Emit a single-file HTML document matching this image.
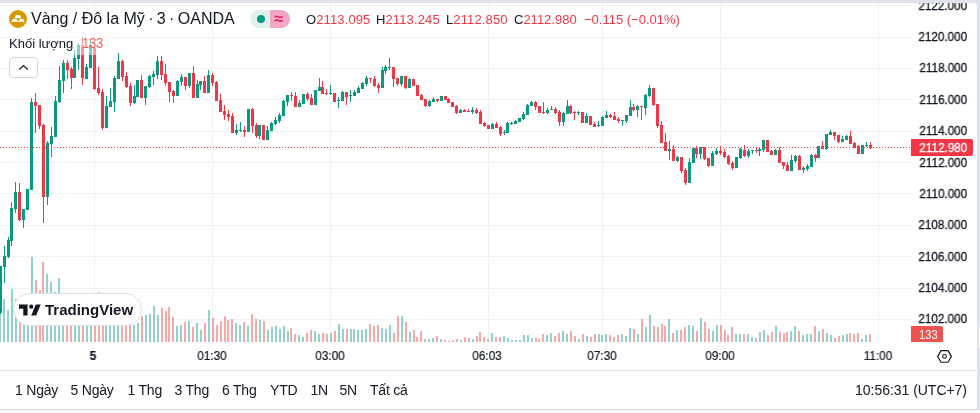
<!DOCTYPE html>
<html><head><meta charset="utf-8"><title>chart</title>
<style>
html,body{margin:0;padding:0;}
body{width:980px;height:413px;overflow:hidden;background:#e0e3eb;position:relative;font-family:"Liberation Sans",sans-serif;color:#131722;}
.panel{position:absolute;left:0;top:3px;width:977px;height:410px;background:#fff;border-top-right-radius:4px;}
.abs{position:absolute;white-space:nowrap;}
svg.chart{position:absolute;left:0;top:0;}
.pl{-webkit-text-stroke:0.3px;will-change:transform;position:absolute;right:12.5px;font-size:12px;line-height:14px;transform:scaleX(0.972);transform-origin:right center;white-space:nowrap;}
.tl{-webkit-text-stroke:0.2px;will-change:transform;position:absolute;top:349px;font-size:12px;line-height:14px;transform:translateX(-50%) scaleX(0.98);white-space:nowrap;}
.bt{position:absolute;top:381px;font-size:14px;line-height:18px;white-space:nowrap;letter-spacing:-0.2px;}
.r{color:#f23645;}
</style></head><body>
<div class="panel"></div>
<svg class="chart" width="980" height="413" viewBox="0 0 980 413" shape-rendering="crispEdges">
<rect x="0" y="5" width="911" height="1" fill="#f1f3f3"/>
<rect x="0" y="37" width="911" height="1" fill="#f1f3f3"/>
<rect x="0" y="68" width="911" height="1" fill="#f1f3f3"/>
<rect x="0" y="99" width="911" height="1" fill="#f1f3f3"/>
<rect x="0" y="131" width="911" height="1" fill="#f1f3f3"/>
<rect x="0" y="162" width="911" height="1" fill="#f1f3f3"/>
<rect x="0" y="193" width="911" height="1" fill="#f1f3f3"/>
<rect x="0" y="225" width="911" height="1" fill="#f1f3f3"/>
<rect x="0" y="256" width="911" height="1" fill="#f1f3f3"/>
<rect x="0" y="288" width="911" height="1" fill="#f1f3f3"/>
<rect x="0" y="319" width="911" height="1" fill="#f1f3f3"/>
<rect x="94" y="3" width="1" height="339" fill="#f1f3f3"/>
<rect x="212" y="3" width="1" height="339" fill="#f1f3f3"/>
<rect x="330" y="3" width="1" height="339" fill="#f1f3f3"/>
<rect x="488" y="3" width="1" height="339" fill="#f1f3f3"/>
<rect x="602" y="3" width="1" height="339" fill="#f1f3f3"/>
<rect x="720" y="3" width="1" height="339" fill="#f1f3f3"/>
<rect x="878" y="3" width="1" height="339" fill="#f1f3f3"/>
<rect x="-1" y="295" width="2" height="47" fill="rgba(38,166,154,0.5)"/>
<rect x="3" y="299" width="2" height="43" fill="rgba(38,166,154,0.5)"/>
<rect x="7" y="310" width="2" height="32" fill="rgba(38,166,154,0.5)"/>
<rect x="11" y="289" width="2" height="53" fill="rgba(38,166,154,0.5)"/>
<rect x="15" y="299" width="2" height="43" fill="rgba(38,166,154,0.5)"/>
<rect x="19" y="300" width="2" height="42" fill="rgba(239,83,80,0.5)"/>
<rect x="23" y="300" width="2" height="42" fill="rgba(38,166,154,0.5)"/>
<rect x="27" y="300" width="2" height="42" fill="rgba(38,166,154,0.5)"/>
<rect x="31" y="257" width="2" height="85" fill="rgba(38,166,154,0.5)"/>
<rect x="35" y="280" width="2" height="62" fill="rgba(239,83,80,0.5)"/>
<rect x="39" y="290" width="2" height="52" fill="rgba(239,83,80,0.5)"/>
<rect x="42" y="262" width="2" height="80" fill="rgba(239,83,80,0.5)"/>
<rect x="46" y="274" width="2" height="68" fill="rgba(38,166,154,0.5)"/>
<rect x="50" y="282" width="2" height="60" fill="rgba(38,166,154,0.5)"/>
<rect x="54" y="292" width="2" height="50" fill="rgba(38,166,154,0.5)"/>
<rect x="58" y="278" width="2" height="64" fill="rgba(38,166,154,0.5)"/>
<rect x="62" y="300" width="2" height="42" fill="rgba(38,166,154,0.5)"/>
<rect x="66" y="300" width="2" height="42" fill="rgba(239,83,80,0.5)"/>
<rect x="70" y="300" width="2" height="42" fill="rgba(239,83,80,0.5)"/>
<rect x="74" y="300" width="2" height="42" fill="rgba(38,166,154,0.5)"/>
<rect x="78" y="300" width="2" height="42" fill="rgba(38,166,154,0.5)"/>
<rect x="82" y="300" width="2" height="42" fill="rgba(239,83,80,0.5)"/>
<rect x="86" y="300" width="2" height="42" fill="rgba(38,166,154,0.5)"/>
<rect x="90" y="300" width="2" height="42" fill="rgba(38,166,154,0.5)"/>
<rect x="94" y="300" width="2" height="42" fill="rgba(239,83,80,0.5)"/>
<rect x="98" y="292" width="2" height="50" fill="rgba(239,83,80,0.5)"/>
<rect x="102" y="300" width="2" height="42" fill="rgba(239,83,80,0.5)"/>
<rect x="105" y="300" width="2" height="42" fill="rgba(38,166,154,0.5)"/>
<rect x="109" y="300" width="2" height="42" fill="rgba(38,166,154,0.5)"/>
<rect x="113" y="300" width="2" height="42" fill="rgba(38,166,154,0.5)"/>
<rect x="117" y="300" width="2" height="42" fill="rgba(38,166,154,0.5)"/>
<rect x="121" y="300" width="2" height="42" fill="rgba(239,83,80,0.5)"/>
<rect x="125" y="300" width="2" height="42" fill="rgba(239,83,80,0.5)"/>
<rect x="129" y="300" width="2" height="42" fill="rgba(239,83,80,0.5)"/>
<rect x="133" y="325" width="2" height="17" fill="rgba(38,166,154,0.5)"/>
<rect x="137" y="323" width="2" height="19" fill="rgba(38,166,154,0.5)"/>
<rect x="141" y="316" width="2" height="26" fill="rgba(239,83,80,0.5)"/>
<rect x="145" y="315" width="2" height="27" fill="rgba(38,166,154,0.5)"/>
<rect x="149" y="314" width="2" height="28" fill="rgba(38,166,154,0.5)"/>
<rect x="153" y="306" width="2" height="36" fill="rgba(38,166,154,0.5)"/>
<rect x="157" y="315" width="2" height="27" fill="rgba(38,166,154,0.5)"/>
<rect x="161" y="308" width="2" height="34" fill="rgba(239,83,80,0.5)"/>
<rect x="165" y="311" width="2" height="31" fill="rgba(239,83,80,0.5)"/>
<rect x="168" y="307" width="2" height="35" fill="rgba(239,83,80,0.5)"/>
<rect x="172" y="317" width="2" height="25" fill="rgba(239,83,80,0.5)"/>
<rect x="176" y="326" width="2" height="16" fill="rgba(38,166,154,0.5)"/>
<rect x="180" y="325" width="2" height="17" fill="rgba(38,166,154,0.5)"/>
<rect x="184" y="322" width="2" height="20" fill="rgba(239,83,80,0.5)"/>
<rect x="188" y="321" width="2" height="21" fill="rgba(38,166,154,0.5)"/>
<rect x="192" y="327" width="2" height="15" fill="rgba(239,83,80,0.5)"/>
<rect x="196" y="323" width="2" height="19" fill="rgba(38,166,154,0.5)"/>
<rect x="200" y="330" width="2" height="12" fill="rgba(38,166,154,0.5)"/>
<rect x="204" y="323" width="2" height="19" fill="rgba(239,83,80,0.5)"/>
<rect x="208" y="310" width="2" height="32" fill="rgba(38,166,154,0.5)"/>
<rect x="212" y="318" width="2" height="24" fill="rgba(239,83,80,0.5)"/>
<rect x="216" y="325" width="2" height="17" fill="rgba(239,83,80,0.5)"/>
<rect x="220" y="321" width="2" height="21" fill="rgba(239,83,80,0.5)"/>
<rect x="224" y="316" width="2" height="26" fill="rgba(239,83,80,0.5)"/>
<rect x="227" y="320" width="2" height="22" fill="rgba(239,83,80,0.5)"/>
<rect x="231" y="319" width="2" height="23" fill="rgba(239,83,80,0.5)"/>
<rect x="235" y="323" width="2" height="19" fill="rgba(38,166,154,0.5)"/>
<rect x="239" y="325" width="2" height="17" fill="rgba(38,166,154,0.5)"/>
<rect x="243" y="322" width="2" height="20" fill="rgba(239,83,80,0.5)"/>
<rect x="247" y="326" width="2" height="16" fill="rgba(38,166,154,0.5)"/>
<rect x="251" y="314" width="2" height="28" fill="rgba(239,83,80,0.5)"/>
<rect x="255" y="319" width="2" height="23" fill="rgba(239,83,80,0.5)"/>
<rect x="259" y="320" width="2" height="22" fill="rgba(38,166,154,0.5)"/>
<rect x="263" y="321" width="2" height="21" fill="rgba(239,83,80,0.5)"/>
<rect x="267" y="330" width="2" height="12" fill="rgba(38,166,154,0.5)"/>
<rect x="271" y="327" width="2" height="15" fill="rgba(38,166,154,0.5)"/>
<rect x="275" y="326" width="2" height="16" fill="rgba(38,166,154,0.5)"/>
<rect x="279" y="329" width="2" height="13" fill="rgba(38,166,154,0.5)"/>
<rect x="283" y="326" width="2" height="16" fill="rgba(38,166,154,0.5)"/>
<rect x="287" y="331" width="2" height="11" fill="rgba(38,166,154,0.5)"/>
<rect x="290" y="328" width="2" height="14" fill="rgba(239,83,80,0.5)"/>
<rect x="294" y="334" width="2" height="8" fill="rgba(239,83,80,0.5)"/>
<rect x="298" y="335" width="2" height="7" fill="rgba(38,166,154,0.5)"/>
<rect x="302" y="337" width="2" height="5" fill="rgba(38,166,154,0.5)"/>
<rect x="306" y="333" width="2" height="9" fill="rgba(239,83,80,0.5)"/>
<rect x="310" y="330" width="2" height="12" fill="rgba(239,83,80,0.5)"/>
<rect x="314" y="331" width="2" height="11" fill="rgba(38,166,154,0.5)"/>
<rect x="318" y="334" width="2" height="8" fill="rgba(38,166,154,0.5)"/>
<rect x="322" y="333" width="2" height="9" fill="rgba(239,83,80,0.5)"/>
<rect x="326" y="334" width="2" height="8" fill="rgba(239,83,80,0.5)"/>
<rect x="330" y="333" width="2" height="9" fill="rgba(38,166,154,0.5)"/>
<rect x="334" y="331" width="2" height="11" fill="rgba(239,83,80,0.5)"/>
<rect x="338" y="324" width="2" height="18" fill="rgba(38,166,154,0.5)"/>
<rect x="342" y="329" width="2" height="13" fill="rgba(38,166,154,0.5)"/>
<rect x="346" y="329" width="2" height="13" fill="rgba(239,83,80,0.5)"/>
<rect x="350" y="329" width="2" height="13" fill="rgba(38,166,154,0.5)"/>
<rect x="353" y="329" width="2" height="13" fill="rgba(38,166,154,0.5)"/>
<rect x="357" y="330" width="2" height="12" fill="rgba(38,166,154,0.5)"/>
<rect x="361" y="330" width="2" height="12" fill="rgba(38,166,154,0.5)"/>
<rect x="365" y="329" width="2" height="13" fill="rgba(38,166,154,0.5)"/>
<rect x="369" y="324" width="2" height="18" fill="rgba(239,83,80,0.5)"/>
<rect x="373" y="326" width="2" height="16" fill="rgba(239,83,80,0.5)"/>
<rect x="377" y="325" width="2" height="17" fill="rgba(239,83,80,0.5)"/>
<rect x="381" y="328" width="2" height="14" fill="rgba(38,166,154,0.5)"/>
<rect x="385" y="329" width="2" height="13" fill="rgba(38,166,154,0.5)"/>
<rect x="389" y="325" width="2" height="17" fill="rgba(38,166,154,0.5)"/>
<rect x="393" y="333" width="2" height="9" fill="rgba(239,83,80,0.5)"/>
<rect x="397" y="316" width="2" height="26" fill="rgba(239,83,80,0.5)"/>
<rect x="401" y="316" width="2" height="26" fill="rgba(38,166,154,0.5)"/>
<rect x="405" y="322" width="2" height="20" fill="rgba(239,83,80,0.5)"/>
<rect x="409" y="332" width="2" height="10" fill="rgba(38,166,154,0.5)"/>
<rect x="413" y="330" width="2" height="12" fill="rgba(239,83,80,0.5)"/>
<rect x="416" y="337" width="2" height="5" fill="rgba(239,83,80,0.5)"/>
<rect x="420" y="331" width="2" height="11" fill="rgba(239,83,80,0.5)"/>
<rect x="424" y="339" width="2" height="3" fill="rgba(239,83,80,0.5)"/>
<rect x="428" y="339" width="2" height="3" fill="rgba(38,166,154,0.5)"/>
<rect x="432" y="338" width="2" height="4" fill="rgba(38,166,154,0.5)"/>
<rect x="436" y="336" width="2" height="6" fill="rgba(239,83,80,0.5)"/>
<rect x="440" y="339" width="2" height="3" fill="rgba(38,166,154,0.5)"/>
<rect x="444" y="340" width="2" height="2" fill="rgba(239,83,80,0.5)"/>
<rect x="448" y="341" width="2" height="1" fill="rgba(239,83,80,0.5)"/>
<rect x="452" y="340" width="2" height="2" fill="rgba(239,83,80,0.5)"/>
<rect x="456" y="339" width="2" height="3" fill="rgba(239,83,80,0.5)"/>
<rect x="460" y="340" width="2" height="2" fill="rgba(38,166,154,0.5)"/>
<rect x="464" y="337" width="2" height="5" fill="rgba(239,83,80,0.5)"/>
<rect x="468" y="338" width="2" height="4" fill="rgba(239,83,80,0.5)"/>
<rect x="472" y="339" width="2" height="3" fill="rgba(38,166,154,0.5)"/>
<rect x="476" y="336" width="2" height="6" fill="rgba(239,83,80,0.5)"/>
<rect x="479" y="332" width="2" height="10" fill="rgba(239,83,80,0.5)"/>
<rect x="483" y="337" width="2" height="5" fill="rgba(239,83,80,0.5)"/>
<rect x="487" y="339" width="2" height="3" fill="rgba(239,83,80,0.5)"/>
<rect x="491" y="333" width="2" height="9" fill="rgba(38,166,154,0.5)"/>
<rect x="495" y="337" width="2" height="5" fill="rgba(239,83,80,0.5)"/>
<rect x="499" y="337" width="2" height="5" fill="rgba(239,83,80,0.5)"/>
<rect x="503" y="336" width="2" height="6" fill="rgba(38,166,154,0.5)"/>
<rect x="507" y="338" width="2" height="4" fill="rgba(38,166,154,0.5)"/>
<rect x="511" y="340" width="2" height="2" fill="rgba(38,166,154,0.5)"/>
<rect x="515" y="340" width="2" height="2" fill="rgba(38,166,154,0.5)"/>
<rect x="519" y="340" width="2" height="2" fill="rgba(38,166,154,0.5)"/>
<rect x="523" y="335" width="2" height="7" fill="rgba(38,166,154,0.5)"/>
<rect x="527" y="335" width="2" height="7" fill="rgba(38,166,154,0.5)"/>
<rect x="531" y="338" width="2" height="4" fill="rgba(38,166,154,0.5)"/>
<rect x="535" y="338" width="2" height="4" fill="rgba(239,83,80,0.5)"/>
<rect x="538" y="339" width="2" height="3" fill="rgba(239,83,80,0.5)"/>
<rect x="542" y="334" width="2" height="8" fill="rgba(239,83,80,0.5)"/>
<rect x="546" y="335" width="2" height="7" fill="rgba(38,166,154,0.5)"/>
<rect x="550" y="333" width="2" height="9" fill="rgba(38,166,154,0.5)"/>
<rect x="554" y="336" width="2" height="6" fill="rgba(239,83,80,0.5)"/>
<rect x="558" y="333" width="2" height="9" fill="rgba(239,83,80,0.5)"/>
<rect x="562" y="331" width="2" height="11" fill="rgba(38,166,154,0.5)"/>
<rect x="566" y="334" width="2" height="8" fill="rgba(38,166,154,0.5)"/>
<rect x="570" y="331" width="2" height="11" fill="rgba(239,83,80,0.5)"/>
<rect x="574" y="336" width="2" height="6" fill="rgba(239,83,80,0.5)"/>
<rect x="578" y="339" width="2" height="3" fill="rgba(38,166,154,0.5)"/>
<rect x="582" y="334" width="2" height="8" fill="rgba(239,83,80,0.5)"/>
<rect x="586" y="336" width="2" height="6" fill="rgba(38,166,154,0.5)"/>
<rect x="590" y="337" width="2" height="5" fill="rgba(239,83,80,0.5)"/>
<rect x="594" y="334" width="2" height="8" fill="rgba(239,83,80,0.5)"/>
<rect x="598" y="334" width="2" height="8" fill="rgba(38,166,154,0.5)"/>
<rect x="601" y="335" width="2" height="7" fill="rgba(38,166,154,0.5)"/>
<rect x="605" y="334" width="2" height="8" fill="rgba(38,166,154,0.5)"/>
<rect x="609" y="335" width="2" height="7" fill="rgba(239,83,80,0.5)"/>
<rect x="613" y="337" width="2" height="5" fill="rgba(239,83,80,0.5)"/>
<rect x="617" y="335" width="2" height="7" fill="rgba(239,83,80,0.5)"/>
<rect x="621" y="334" width="2" height="8" fill="rgba(38,166,154,0.5)"/>
<rect x="625" y="336" width="2" height="6" fill="rgba(38,166,154,0.5)"/>
<rect x="629" y="328" width="2" height="14" fill="rgba(38,166,154,0.5)"/>
<rect x="633" y="329" width="2" height="13" fill="rgba(239,83,80,0.5)"/>
<rect x="637" y="334" width="2" height="8" fill="rgba(38,166,154,0.5)"/>
<rect x="641" y="319" width="2" height="23" fill="rgba(239,83,80,0.5)"/>
<rect x="645" y="327" width="2" height="15" fill="rgba(38,166,154,0.5)"/>
<rect x="649" y="315" width="2" height="27" fill="rgba(38,166,154,0.5)"/>
<rect x="653" y="326" width="2" height="16" fill="rgba(239,83,80,0.5)"/>
<rect x="657" y="327" width="2" height="15" fill="rgba(239,83,80,0.5)"/>
<rect x="661" y="324" width="2" height="18" fill="rgba(239,83,80,0.5)"/>
<rect x="664" y="326" width="2" height="16" fill="rgba(239,83,80,0.5)"/>
<rect x="668" y="319" width="2" height="23" fill="rgba(38,166,154,0.5)"/>
<rect x="672" y="333" width="2" height="9" fill="rgba(239,83,80,0.5)"/>
<rect x="676" y="330" width="2" height="12" fill="rgba(38,166,154,0.5)"/>
<rect x="680" y="330" width="2" height="12" fill="rgba(239,83,80,0.5)"/>
<rect x="684" y="327" width="2" height="15" fill="rgba(239,83,80,0.5)"/>
<rect x="688" y="325" width="2" height="17" fill="rgba(38,166,154,0.5)"/>
<rect x="692" y="326" width="2" height="16" fill="rgba(38,166,154,0.5)"/>
<rect x="696" y="331" width="2" height="11" fill="rgba(239,83,80,0.5)"/>
<rect x="700" y="318" width="2" height="24" fill="rgba(38,166,154,0.5)"/>
<rect x="704" y="322" width="2" height="20" fill="rgba(239,83,80,0.5)"/>
<rect x="708" y="329" width="2" height="13" fill="rgba(239,83,80,0.5)"/>
<rect x="712" y="331" width="2" height="11" fill="rgba(38,166,154,0.5)"/>
<rect x="716" y="325" width="2" height="17" fill="rgba(38,166,154,0.5)"/>
<rect x="720" y="325" width="2" height="17" fill="rgba(239,83,80,0.5)"/>
<rect x="724" y="330" width="2" height="12" fill="rgba(239,83,80,0.5)"/>
<rect x="727" y="335" width="2" height="7" fill="rgba(239,83,80,0.5)"/>
<rect x="731" y="327" width="2" height="15" fill="rgba(239,83,80,0.5)"/>
<rect x="735" y="334" width="2" height="8" fill="rgba(38,166,154,0.5)"/>
<rect x="739" y="334" width="2" height="8" fill="rgba(38,166,154,0.5)"/>
<rect x="743" y="334" width="2" height="8" fill="rgba(239,83,80,0.5)"/>
<rect x="747" y="334" width="2" height="8" fill="rgba(38,166,154,0.5)"/>
<rect x="751" y="337" width="2" height="5" fill="rgba(38,166,154,0.5)"/>
<rect x="755" y="338" width="2" height="4" fill="rgba(239,83,80,0.5)"/>
<rect x="759" y="332" width="2" height="10" fill="rgba(38,166,154,0.5)"/>
<rect x="763" y="330" width="2" height="12" fill="rgba(38,166,154,0.5)"/>
<rect x="767" y="335" width="2" height="7" fill="rgba(239,83,80,0.5)"/>
<rect x="771" y="332" width="2" height="10" fill="rgba(239,83,80,0.5)"/>
<rect x="775" y="326" width="2" height="16" fill="rgba(38,166,154,0.5)"/>
<rect x="779" y="332" width="2" height="10" fill="rgba(239,83,80,0.5)"/>
<rect x="783" y="333" width="2" height="9" fill="rgba(239,83,80,0.5)"/>
<rect x="786" y="332" width="2" height="10" fill="rgba(239,83,80,0.5)"/>
<rect x="790" y="331" width="2" height="11" fill="rgba(38,166,154,0.5)"/>
<rect x="794" y="326" width="2" height="16" fill="rgba(38,166,154,0.5)"/>
<rect x="798" y="331" width="2" height="11" fill="rgba(239,83,80,0.5)"/>
<rect x="802" y="335" width="2" height="7" fill="rgba(38,166,154,0.5)"/>
<rect x="806" y="334" width="2" height="8" fill="rgba(38,166,154,0.5)"/>
<rect x="810" y="334" width="2" height="8" fill="rgba(38,166,154,0.5)"/>
<rect x="814" y="326" width="2" height="16" fill="rgba(239,83,80,0.5)"/>
<rect x="818" y="331" width="2" height="11" fill="rgba(38,166,154,0.5)"/>
<rect x="822" y="329" width="2" height="13" fill="rgba(239,83,80,0.5)"/>
<rect x="826" y="333" width="2" height="9" fill="rgba(38,166,154,0.5)"/>
<rect x="830" y="335" width="2" height="7" fill="rgba(38,166,154,0.5)"/>
<rect x="834" y="338" width="2" height="4" fill="rgba(239,83,80,0.5)"/>
<rect x="838" y="336" width="2" height="6" fill="rgba(239,83,80,0.5)"/>
<rect x="842" y="335" width="2" height="7" fill="rgba(38,166,154,0.5)"/>
<rect x="846" y="334" width="2" height="8" fill="rgba(38,166,154,0.5)"/>
<rect x="849" y="333" width="2" height="9" fill="rgba(239,83,80,0.5)"/>
<rect x="853" y="334" width="2" height="8" fill="rgba(239,83,80,0.5)"/>
<rect x="857" y="333" width="2" height="9" fill="rgba(239,83,80,0.5)"/>
<rect x="861" y="339" width="2" height="3" fill="rgba(38,166,154,0.5)"/>
<rect x="865" y="335" width="2" height="7" fill="rgba(38,166,154,0.5)"/>
<rect x="869" y="334" width="2" height="8" fill="rgba(239,83,80,0.5)"/>
<rect x="0" y="266" width="1" height="48" fill="#089981"/>
<rect x="-1" y="266" width="3" height="47" fill="#089981"/>
<rect x="4" y="246" width="1" height="37" fill="#089981"/>
<rect x="3" y="256" width="3" height="11" fill="#089981"/>
<rect x="8" y="237" width="1" height="21" fill="#089981"/>
<rect x="7" y="240" width="3" height="17" fill="#089981"/>
<rect x="11" y="202" width="1" height="44" fill="#089981"/>
<rect x="10" y="208" width="3" height="33" fill="#089981"/>
<rect x="15" y="182" width="1" height="31" fill="#089981"/>
<rect x="14" y="192" width="3" height="17" fill="#089981"/>
<rect x="19" y="183" width="1" height="38" fill="#f23645"/>
<rect x="18" y="192" width="3" height="28" fill="#f23645"/>
<rect x="23" y="209" width="1" height="19" fill="#089981"/>
<rect x="22" y="209" width="3" height="11" fill="#089981"/>
<rect x="27" y="189" width="1" height="21" fill="#089981"/>
<rect x="26" y="189" width="3" height="21" fill="#089981"/>
<rect x="31" y="98" width="1" height="92" fill="#089981"/>
<rect x="30" y="102" width="3" height="88" fill="#089981"/>
<rect x="35" y="93" width="1" height="40" fill="#f23645"/>
<rect x="34" y="102" width="3" height="4" fill="#f23645"/>
<rect x="39" y="105" width="1" height="24" fill="#f23645"/>
<rect x="38" y="105" width="3" height="21" fill="#f23645"/>
<rect x="43" y="124" width="1" height="99" fill="#f23645"/>
<rect x="42" y="125" width="3" height="72" fill="#f23645"/>
<rect x="47" y="141" width="1" height="64" fill="#089981"/>
<rect x="46" y="143" width="3" height="54" fill="#089981"/>
<rect x="51" y="127" width="1" height="30" fill="#089981"/>
<rect x="50" y="136" width="3" height="8" fill="#089981"/>
<rect x="55" y="96" width="1" height="41" fill="#089981"/>
<rect x="54" y="101" width="3" height="36" fill="#089981"/>
<rect x="59" y="66" width="1" height="37" fill="#089981"/>
<rect x="58" y="80" width="3" height="22" fill="#089981"/>
<rect x="63" y="60" width="1" height="33" fill="#089981"/>
<rect x="62" y="63" width="3" height="18" fill="#089981"/>
<rect x="67" y="60" width="1" height="19" fill="#f23645"/>
<rect x="66" y="63" width="3" height="7" fill="#f23645"/>
<rect x="71" y="67" width="1" height="22" fill="#f23645"/>
<rect x="70" y="69" width="3" height="9" fill="#f23645"/>
<rect x="74" y="50" width="1" height="28" fill="#089981"/>
<rect x="73" y="58" width="3" height="20" fill="#089981"/>
<rect x="78" y="43" width="1" height="27" fill="#089981"/>
<rect x="77" y="45" width="3" height="14" fill="#089981"/>
<rect x="82" y="37" width="1" height="48" fill="#f23645"/>
<rect x="81" y="45" width="3" height="33" fill="#f23645"/>
<rect x="86" y="64" width="1" height="15" fill="#089981"/>
<rect x="85" y="67" width="3" height="12" fill="#089981"/>
<rect x="90" y="39" width="1" height="29" fill="#089981"/>
<rect x="89" y="45" width="3" height="23" fill="#089981"/>
<rect x="94" y="47" width="1" height="43" fill="#f23645"/>
<rect x="93" y="48" width="3" height="41" fill="#f23645"/>
<rect x="98" y="67" width="1" height="28" fill="#f23645"/>
<rect x="97" y="88" width="3" height="5" fill="#f23645"/>
<rect x="102" y="89" width="1" height="41" fill="#f23645"/>
<rect x="101" y="92" width="3" height="36" fill="#f23645"/>
<rect x="106" y="96" width="1" height="32" fill="#089981"/>
<rect x="105" y="106" width="3" height="22" fill="#089981"/>
<rect x="110" y="88" width="1" height="19" fill="#089981"/>
<rect x="109" y="101" width="3" height="6" fill="#089981"/>
<rect x="114" y="76" width="1" height="36" fill="#089981"/>
<rect x="113" y="78" width="3" height="24" fill="#089981"/>
<rect x="118" y="53" width="1" height="26" fill="#089981"/>
<rect x="117" y="61" width="3" height="18" fill="#089981"/>
<rect x="122" y="60" width="1" height="21" fill="#f23645"/>
<rect x="121" y="61" width="3" height="16" fill="#f23645"/>
<rect x="126" y="72" width="1" height="16" fill="#f23645"/>
<rect x="125" y="76" width="3" height="11" fill="#f23645"/>
<rect x="130" y="83" width="1" height="23" fill="#f23645"/>
<rect x="129" y="86" width="3" height="17" fill="#f23645"/>
<rect x="134" y="85" width="1" height="19" fill="#089981"/>
<rect x="133" y="96" width="3" height="7" fill="#089981"/>
<rect x="137" y="80" width="1" height="17" fill="#089981"/>
<rect x="136" y="80" width="3" height="17" fill="#089981"/>
<rect x="141" y="75" width="1" height="23" fill="#f23645"/>
<rect x="140" y="80" width="3" height="18" fill="#f23645"/>
<rect x="145" y="86" width="1" height="19" fill="#089981"/>
<rect x="144" y="86" width="3" height="12" fill="#089981"/>
<rect x="149" y="75" width="1" height="13" fill="#089981"/>
<rect x="148" y="76" width="3" height="11" fill="#089981"/>
<rect x="153" y="71" width="1" height="14" fill="#089981"/>
<rect x="152" y="74" width="3" height="3" fill="#089981"/>
<rect x="157" y="56" width="1" height="23" fill="#089981"/>
<rect x="156" y="61" width="3" height="14" fill="#089981"/>
<rect x="161" y="56" width="1" height="24" fill="#f23645"/>
<rect x="160" y="61" width="3" height="14" fill="#f23645"/>
<rect x="165" y="64" width="1" height="22" fill="#f23645"/>
<rect x="164" y="74" width="3" height="9" fill="#f23645"/>
<rect x="169" y="82" width="1" height="20" fill="#f23645"/>
<rect x="168" y="82" width="3" height="10" fill="#f23645"/>
<rect x="173" y="90" width="1" height="13" fill="#f23645"/>
<rect x="172" y="91" width="3" height="5" fill="#f23645"/>
<rect x="177" y="80" width="1" height="16" fill="#089981"/>
<rect x="176" y="81" width="3" height="15" fill="#089981"/>
<rect x="181" y="74" width="1" height="12" fill="#089981"/>
<rect x="180" y="77" width="3" height="5" fill="#089981"/>
<rect x="185" y="77" width="1" height="13" fill="#f23645"/>
<rect x="184" y="77" width="3" height="9" fill="#f23645"/>
<rect x="189" y="73" width="1" height="15" fill="#089981"/>
<rect x="188" y="73" width="3" height="13" fill="#089981"/>
<rect x="193" y="66" width="1" height="32" fill="#f23645"/>
<rect x="192" y="73" width="3" height="25" fill="#f23645"/>
<rect x="197" y="80" width="1" height="18" fill="#089981"/>
<rect x="196" y="84" width="3" height="14" fill="#089981"/>
<rect x="200" y="81" width="1" height="9" fill="#089981"/>
<rect x="199" y="81" width="3" height="4" fill="#089981"/>
<rect x="204" y="76" width="1" height="17" fill="#f23645"/>
<rect x="203" y="81" width="3" height="12" fill="#f23645"/>
<rect x="208" y="70" width="1" height="23" fill="#089981"/>
<rect x="207" y="75" width="3" height="18" fill="#089981"/>
<rect x="212" y="73" width="1" height="13" fill="#f23645"/>
<rect x="211" y="75" width="3" height="8" fill="#f23645"/>
<rect x="216" y="81" width="1" height="20" fill="#f23645"/>
<rect x="215" y="82" width="3" height="19" fill="#f23645"/>
<rect x="220" y="94" width="1" height="18" fill="#f23645"/>
<rect x="219" y="100" width="3" height="12" fill="#f23645"/>
<rect x="224" y="105" width="1" height="15" fill="#f23645"/>
<rect x="223" y="111" width="3" height="4" fill="#f23645"/>
<rect x="228" y="110" width="1" height="11" fill="#f23645"/>
<rect x="227" y="114" width="3" height="3" fill="#f23645"/>
<rect x="232" y="113" width="1" height="20" fill="#f23645"/>
<rect x="231" y="116" width="3" height="17" fill="#f23645"/>
<rect x="236" y="124" width="1" height="11" fill="#089981"/>
<rect x="235" y="130" width="3" height="3" fill="#089981"/>
<rect x="240" y="122" width="1" height="10" fill="#089981"/>
<rect x="239" y="130" width="3" height="1" fill="#089981"/>
<rect x="244" y="126" width="1" height="11" fill="#f23645"/>
<rect x="243" y="130" width="3" height="2" fill="#f23645"/>
<rect x="248" y="109" width="1" height="23" fill="#089981"/>
<rect x="247" y="109" width="3" height="23" fill="#089981"/>
<rect x="252" y="108" width="1" height="25" fill="#f23645"/>
<rect x="251" y="109" width="3" height="17" fill="#f23645"/>
<rect x="256" y="123" width="1" height="15" fill="#f23645"/>
<rect x="255" y="125" width="3" height="11" fill="#f23645"/>
<rect x="259" y="125" width="1" height="14" fill="#089981"/>
<rect x="258" y="125" width="3" height="11" fill="#089981"/>
<rect x="263" y="125" width="1" height="15" fill="#f23645"/>
<rect x="262" y="125" width="3" height="15" fill="#f23645"/>
<rect x="267" y="126" width="1" height="14" fill="#089981"/>
<rect x="266" y="130" width="3" height="10" fill="#089981"/>
<rect x="271" y="122" width="1" height="9" fill="#089981"/>
<rect x="270" y="123" width="3" height="8" fill="#089981"/>
<rect x="275" y="117" width="1" height="8" fill="#089981"/>
<rect x="274" y="120" width="3" height="4" fill="#089981"/>
<rect x="279" y="113" width="1" height="10" fill="#089981"/>
<rect x="278" y="115" width="3" height="6" fill="#089981"/>
<rect x="283" y="100" width="1" height="16" fill="#089981"/>
<rect x="282" y="101" width="3" height="15" fill="#089981"/>
<rect x="287" y="95" width="1" height="11" fill="#089981"/>
<rect x="286" y="95" width="3" height="7" fill="#089981"/>
<rect x="291" y="92" width="1" height="9" fill="#f23645"/>
<rect x="290" y="95" width="3" height="1" fill="#f23645"/>
<rect x="295" y="92" width="1" height="15" fill="#f23645"/>
<rect x="294" y="96" width="3" height="11" fill="#f23645"/>
<rect x="299" y="100" width="1" height="7" fill="#089981"/>
<rect x="298" y="103" width="3" height="4" fill="#089981"/>
<rect x="303" y="94" width="1" height="10" fill="#089981"/>
<rect x="302" y="94" width="3" height="10" fill="#089981"/>
<rect x="307" y="92" width="1" height="9" fill="#f23645"/>
<rect x="306" y="94" width="3" height="5" fill="#f23645"/>
<rect x="311" y="94" width="1" height="11" fill="#f23645"/>
<rect x="310" y="98" width="3" height="7" fill="#f23645"/>
<rect x="315" y="90" width="1" height="15" fill="#089981"/>
<rect x="314" y="90" width="3" height="15" fill="#089981"/>
<rect x="319" y="78" width="1" height="13" fill="#089981"/>
<rect x="318" y="87" width="3" height="4" fill="#089981"/>
<rect x="322" y="81" width="1" height="13" fill="#f23645"/>
<rect x="321" y="87" width="3" height="7" fill="#f23645"/>
<rect x="326" y="89" width="1" height="6" fill="#f23645"/>
<rect x="325" y="93" width="3" height="1" fill="#f23645"/>
<rect x="330" y="85" width="1" height="10" fill="#089981"/>
<rect x="329" y="93" width="3" height="1" fill="#089981"/>
<rect x="334" y="93" width="1" height="9" fill="#f23645"/>
<rect x="333" y="93" width="3" height="9" fill="#f23645"/>
<rect x="338" y="97" width="1" height="11" fill="#089981"/>
<rect x="337" y="100" width="3" height="1" fill="#089981"/>
<rect x="342" y="91" width="1" height="10" fill="#089981"/>
<rect x="341" y="92" width="3" height="9" fill="#089981"/>
<rect x="346" y="92" width="1" height="13" fill="#f23645"/>
<rect x="345" y="92" width="3" height="5" fill="#f23645"/>
<rect x="350" y="90" width="1" height="12" fill="#089981"/>
<rect x="349" y="95" width="3" height="1" fill="#089981"/>
<rect x="354" y="90" width="1" height="6" fill="#089981"/>
<rect x="353" y="92" width="3" height="4" fill="#089981"/>
<rect x="358" y="86" width="1" height="7" fill="#089981"/>
<rect x="357" y="88" width="3" height="5" fill="#089981"/>
<rect x="362" y="82" width="1" height="7" fill="#089981"/>
<rect x="361" y="83" width="3" height="6" fill="#089981"/>
<rect x="366" y="76" width="1" height="10" fill="#089981"/>
<rect x="365" y="78" width="3" height="6" fill="#089981"/>
<rect x="370" y="78" width="1" height="5" fill="#f23645"/>
<rect x="369" y="78" width="3" height="1" fill="#f23645"/>
<rect x="374" y="76" width="1" height="11" fill="#f23645"/>
<rect x="373" y="79" width="3" height="7" fill="#f23645"/>
<rect x="378" y="83" width="1" height="10" fill="#f23645"/>
<rect x="377" y="85" width="3" height="3" fill="#f23645"/>
<rect x="382" y="67" width="1" height="21" fill="#089981"/>
<rect x="381" y="70" width="3" height="18" fill="#089981"/>
<rect x="385" y="65" width="1" height="9" fill="#089981"/>
<rect x="384" y="67" width="3" height="4" fill="#089981"/>
<rect x="389" y="58" width="1" height="12" fill="#089981"/>
<rect x="388" y="67" width="3" height="1" fill="#089981"/>
<rect x="393" y="67" width="1" height="20" fill="#f23645"/>
<rect x="392" y="67" width="3" height="12" fill="#f23645"/>
<rect x="397" y="78" width="1" height="8" fill="#f23645"/>
<rect x="396" y="78" width="3" height="6" fill="#f23645"/>
<rect x="401" y="76" width="1" height="10" fill="#089981"/>
<rect x="400" y="76" width="3" height="8" fill="#089981"/>
<rect x="405" y="76" width="1" height="13" fill="#f23645"/>
<rect x="404" y="76" width="3" height="12" fill="#f23645"/>
<rect x="409" y="78" width="1" height="10" fill="#089981"/>
<rect x="408" y="79" width="3" height="9" fill="#089981"/>
<rect x="413" y="79" width="1" height="7" fill="#f23645"/>
<rect x="412" y="79" width="3" height="7" fill="#f23645"/>
<rect x="417" y="85" width="1" height="11" fill="#f23645"/>
<rect x="416" y="85" width="3" height="11" fill="#f23645"/>
<rect x="421" y="94" width="1" height="6" fill="#f23645"/>
<rect x="420" y="95" width="3" height="5" fill="#f23645"/>
<rect x="425" y="99" width="1" height="8" fill="#f23645"/>
<rect x="424" y="99" width="3" height="7" fill="#f23645"/>
<rect x="429" y="100" width="1" height="7" fill="#089981"/>
<rect x="428" y="101" width="3" height="5" fill="#089981"/>
<rect x="433" y="97" width="1" height="5" fill="#089981"/>
<rect x="432" y="99" width="3" height="3" fill="#089981"/>
<rect x="437" y="99" width="1" height="3" fill="#f23645"/>
<rect x="436" y="99" width="3" height="2" fill="#f23645"/>
<rect x="441" y="96" width="1" height="5" fill="#089981"/>
<rect x="440" y="96" width="3" height="5" fill="#089981"/>
<rect x="445" y="96" width="1" height="4" fill="#f23645"/>
<rect x="444" y="96" width="3" height="4" fill="#f23645"/>
<rect x="448" y="98" width="1" height="5" fill="#f23645"/>
<rect x="447" y="99" width="3" height="4" fill="#f23645"/>
<rect x="452" y="102" width="1" height="5" fill="#f23645"/>
<rect x="451" y="102" width="3" height="5" fill="#f23645"/>
<rect x="456" y="105" width="1" height="9" fill="#f23645"/>
<rect x="455" y="106" width="3" height="7" fill="#f23645"/>
<rect x="460" y="109" width="1" height="4" fill="#089981"/>
<rect x="459" y="110" width="3" height="3" fill="#089981"/>
<rect x="464" y="109" width="1" height="3" fill="#f23645"/>
<rect x="463" y="110" width="3" height="2" fill="#f23645"/>
<rect x="468" y="109" width="1" height="3" fill="#f23645"/>
<rect x="467" y="111" width="3" height="1" fill="#f23645"/>
<rect x="472" y="107" width="1" height="7" fill="#089981"/>
<rect x="471" y="110" width="3" height="2" fill="#089981"/>
<rect x="476" y="108" width="1" height="6" fill="#f23645"/>
<rect x="475" y="110" width="3" height="3" fill="#f23645"/>
<rect x="480" y="110" width="1" height="14" fill="#f23645"/>
<rect x="479" y="112" width="3" height="12" fill="#f23645"/>
<rect x="484" y="122" width="1" height="5" fill="#f23645"/>
<rect x="483" y="123" width="3" height="3" fill="#f23645"/>
<rect x="488" y="125" width="1" height="4" fill="#f23645"/>
<rect x="487" y="125" width="3" height="4" fill="#f23645"/>
<rect x="492" y="123" width="1" height="6" fill="#089981"/>
<rect x="491" y="124" width="3" height="5" fill="#089981"/>
<rect x="496" y="122" width="1" height="6" fill="#f23645"/>
<rect x="495" y="124" width="3" height="4" fill="#f23645"/>
<rect x="500" y="126" width="1" height="10" fill="#f23645"/>
<rect x="499" y="127" width="3" height="7" fill="#f23645"/>
<rect x="504" y="130" width="1" height="5" fill="#089981"/>
<rect x="503" y="132" width="3" height="1" fill="#089981"/>
<rect x="507" y="122" width="1" height="11" fill="#089981"/>
<rect x="506" y="123" width="3" height="10" fill="#089981"/>
<rect x="511" y="122" width="1" height="3" fill="#089981"/>
<rect x="510" y="123" width="3" height="1" fill="#089981"/>
<rect x="515" y="120" width="1" height="4" fill="#089981"/>
<rect x="514" y="121" width="3" height="3" fill="#089981"/>
<rect x="519" y="118" width="1" height="4" fill="#089981"/>
<rect x="518" y="118" width="3" height="4" fill="#089981"/>
<rect x="523" y="112" width="1" height="8" fill="#089981"/>
<rect x="522" y="114" width="3" height="5" fill="#089981"/>
<rect x="527" y="104" width="1" height="11" fill="#089981"/>
<rect x="526" y="105" width="3" height="10" fill="#089981"/>
<rect x="531" y="101" width="1" height="5" fill="#089981"/>
<rect x="530" y="102" width="3" height="4" fill="#089981"/>
<rect x="535" y="101" width="1" height="9" fill="#f23645"/>
<rect x="534" y="102" width="3" height="5" fill="#f23645"/>
<rect x="539" y="106" width="1" height="7" fill="#f23645"/>
<rect x="538" y="106" width="3" height="7" fill="#f23645"/>
<rect x="543" y="102" width="1" height="12" fill="#f23645"/>
<rect x="542" y="112" width="3" height="1" fill="#f23645"/>
<rect x="547" y="108" width="1" height="6" fill="#089981"/>
<rect x="546" y="110" width="3" height="3" fill="#089981"/>
<rect x="551" y="106" width="1" height="4" fill="#089981"/>
<rect x="550" y="109" width="3" height="1" fill="#089981"/>
<rect x="555" y="107" width="1" height="7" fill="#f23645"/>
<rect x="554" y="109" width="3" height="4" fill="#f23645"/>
<rect x="559" y="110" width="1" height="16" fill="#f23645"/>
<rect x="558" y="112" width="3" height="10" fill="#f23645"/>
<rect x="563" y="112" width="1" height="14" fill="#089981"/>
<rect x="562" y="113" width="3" height="9" fill="#089981"/>
<rect x="567" y="100" width="1" height="14" fill="#089981"/>
<rect x="566" y="106" width="3" height="8" fill="#089981"/>
<rect x="570" y="105" width="1" height="9" fill="#f23645"/>
<rect x="569" y="106" width="3" height="7" fill="#f23645"/>
<rect x="574" y="111" width="1" height="9" fill="#f23645"/>
<rect x="573" y="112" width="3" height="1" fill="#f23645"/>
<rect x="578" y="111" width="1" height="4" fill="#089981"/>
<rect x="577" y="112" width="3" height="1" fill="#089981"/>
<rect x="582" y="112" width="1" height="11" fill="#f23645"/>
<rect x="581" y="112" width="3" height="11" fill="#f23645"/>
<rect x="586" y="113" width="1" height="10" fill="#089981"/>
<rect x="585" y="116" width="3" height="7" fill="#089981"/>
<rect x="590" y="116" width="1" height="9" fill="#f23645"/>
<rect x="589" y="116" width="3" height="9" fill="#f23645"/>
<rect x="594" y="122" width="1" height="5" fill="#f23645"/>
<rect x="593" y="124" width="3" height="3" fill="#f23645"/>
<rect x="598" y="121" width="1" height="6" fill="#089981"/>
<rect x="597" y="125" width="3" height="1" fill="#089981"/>
<rect x="602" y="116" width="1" height="10" fill="#089981"/>
<rect x="601" y="117" width="3" height="9" fill="#089981"/>
<rect x="606" y="111" width="1" height="7" fill="#089981"/>
<rect x="605" y="115" width="3" height="3" fill="#089981"/>
<rect x="610" y="114" width="1" height="4" fill="#f23645"/>
<rect x="609" y="115" width="3" height="2" fill="#f23645"/>
<rect x="614" y="112" width="1" height="8" fill="#f23645"/>
<rect x="613" y="116" width="3" height="4" fill="#f23645"/>
<rect x="618" y="117" width="1" height="6" fill="#f23645"/>
<rect x="617" y="119" width="3" height="2" fill="#f23645"/>
<rect x="622" y="120" width="1" height="6" fill="#089981"/>
<rect x="621" y="120" width="3" height="1" fill="#089981"/>
<rect x="626" y="115" width="1" height="8" fill="#089981"/>
<rect x="625" y="115" width="3" height="6" fill="#089981"/>
<rect x="630" y="100" width="1" height="16" fill="#089981"/>
<rect x="629" y="107" width="3" height="9" fill="#089981"/>
<rect x="633" y="104" width="1" height="7" fill="#f23645"/>
<rect x="632" y="107" width="3" height="3" fill="#f23645"/>
<rect x="637" y="105" width="1" height="12" fill="#089981"/>
<rect x="636" y="106" width="3" height="4" fill="#089981"/>
<rect x="641" y="106" width="1" height="14" fill="#f23645"/>
<rect x="640" y="106" width="3" height="1" fill="#f23645"/>
<rect x="645" y="94" width="1" height="21" fill="#089981"/>
<rect x="644" y="95" width="3" height="13" fill="#089981"/>
<rect x="649" y="85" width="1" height="12" fill="#089981"/>
<rect x="648" y="88" width="3" height="8" fill="#089981"/>
<rect x="653" y="88" width="1" height="18" fill="#f23645"/>
<rect x="652" y="88" width="3" height="17" fill="#f23645"/>
<rect x="657" y="104" width="1" height="24" fill="#f23645"/>
<rect x="656" y="104" width="3" height="22" fill="#f23645"/>
<rect x="661" y="121" width="1" height="22" fill="#f23645"/>
<rect x="660" y="125" width="3" height="18" fill="#f23645"/>
<rect x="665" y="133" width="1" height="18" fill="#f23645"/>
<rect x="664" y="142" width="3" height="9" fill="#f23645"/>
<rect x="669" y="141" width="1" height="19" fill="#089981"/>
<rect x="668" y="149" width="3" height="2" fill="#089981"/>
<rect x="673" y="145" width="1" height="16" fill="#f23645"/>
<rect x="672" y="149" width="3" height="12" fill="#f23645"/>
<rect x="677" y="156" width="1" height="6" fill="#089981"/>
<rect x="676" y="157" width="3" height="4" fill="#089981"/>
<rect x="681" y="157" width="1" height="16" fill="#f23645"/>
<rect x="680" y="157" width="3" height="14" fill="#f23645"/>
<rect x="685" y="168" width="1" height="17" fill="#f23645"/>
<rect x="684" y="170" width="3" height="13" fill="#f23645"/>
<rect x="689" y="158" width="1" height="25" fill="#089981"/>
<rect x="688" y="162" width="3" height="21" fill="#089981"/>
<rect x="693" y="148" width="1" height="15" fill="#089981"/>
<rect x="692" y="148" width="3" height="15" fill="#089981"/>
<rect x="696" y="146" width="1" height="12" fill="#f23645"/>
<rect x="695" y="148" width="3" height="6" fill="#f23645"/>
<rect x="700" y="147" width="1" height="12" fill="#089981"/>
<rect x="699" y="147" width="3" height="7" fill="#089981"/>
<rect x="704" y="147" width="1" height="13" fill="#f23645"/>
<rect x="703" y="147" width="3" height="12" fill="#f23645"/>
<rect x="708" y="158" width="1" height="9" fill="#f23645"/>
<rect x="707" y="158" width="3" height="8" fill="#f23645"/>
<rect x="712" y="151" width="1" height="15" fill="#089981"/>
<rect x="711" y="153" width="3" height="13" fill="#089981"/>
<rect x="716" y="148" width="1" height="7" fill="#089981"/>
<rect x="715" y="151" width="3" height="3" fill="#089981"/>
<rect x="720" y="146" width="1" height="9" fill="#f23645"/>
<rect x="719" y="151" width="3" height="2" fill="#f23645"/>
<rect x="724" y="149" width="1" height="9" fill="#f23645"/>
<rect x="723" y="152" width="3" height="5" fill="#f23645"/>
<rect x="728" y="155" width="1" height="10" fill="#f23645"/>
<rect x="727" y="156" width="3" height="8" fill="#f23645"/>
<rect x="732" y="161" width="1" height="9" fill="#f23645"/>
<rect x="731" y="163" width="3" height="5" fill="#f23645"/>
<rect x="736" y="157" width="1" height="11" fill="#089981"/>
<rect x="735" y="157" width="3" height="11" fill="#089981"/>
<rect x="740" y="148" width="1" height="11" fill="#089981"/>
<rect x="739" y="149" width="3" height="9" fill="#089981"/>
<rect x="744" y="145" width="1" height="12" fill="#f23645"/>
<rect x="743" y="150" width="3" height="6" fill="#f23645"/>
<rect x="748" y="149" width="1" height="9" fill="#089981"/>
<rect x="747" y="151" width="3" height="5" fill="#089981"/>
<rect x="752" y="150" width="1" height="4" fill="#089981"/>
<rect x="751" y="150" width="3" height="1" fill="#089981"/>
<rect x="756" y="147" width="1" height="6" fill="#f23645"/>
<rect x="755" y="150" width="3" height="1" fill="#f23645"/>
<rect x="759" y="148" width="1" height="8" fill="#089981"/>
<rect x="758" y="149" width="3" height="2" fill="#089981"/>
<rect x="763" y="140" width="1" height="12" fill="#089981"/>
<rect x="762" y="140" width="3" height="10" fill="#089981"/>
<rect x="767" y="140" width="1" height="12" fill="#f23645"/>
<rect x="766" y="140" width="3" height="12" fill="#f23645"/>
<rect x="771" y="150" width="1" height="5" fill="#f23645"/>
<rect x="770" y="151" width="3" height="4" fill="#f23645"/>
<rect x="775" y="149" width="1" height="6" fill="#089981"/>
<rect x="774" y="150" width="3" height="5" fill="#089981"/>
<rect x="779" y="147" width="1" height="16" fill="#f23645"/>
<rect x="778" y="150" width="3" height="13" fill="#f23645"/>
<rect x="783" y="162" width="1" height="7" fill="#f23645"/>
<rect x="782" y="162" width="3" height="4" fill="#f23645"/>
<rect x="787" y="162" width="1" height="9" fill="#f23645"/>
<rect x="786" y="165" width="3" height="6" fill="#f23645"/>
<rect x="791" y="155" width="1" height="16" fill="#089981"/>
<rect x="790" y="160" width="3" height="11" fill="#089981"/>
<rect x="795" y="155" width="1" height="8" fill="#089981"/>
<rect x="794" y="156" width="3" height="5" fill="#089981"/>
<rect x="799" y="155" width="1" height="15" fill="#f23645"/>
<rect x="798" y="156" width="3" height="14" fill="#f23645"/>
<rect x="803" y="166" width="1" height="7" fill="#089981"/>
<rect x="802" y="168" width="3" height="2" fill="#089981"/>
<rect x="807" y="164" width="1" height="7" fill="#089981"/>
<rect x="806" y="166" width="3" height="3" fill="#089981"/>
<rect x="811" y="154" width="1" height="13" fill="#089981"/>
<rect x="810" y="155" width="3" height="12" fill="#089981"/>
<rect x="815" y="154" width="1" height="8" fill="#f23645"/>
<rect x="814" y="155" width="3" height="3" fill="#f23645"/>
<rect x="818" y="146" width="1" height="12" fill="#089981"/>
<rect x="817" y="146" width="3" height="12" fill="#089981"/>
<rect x="822" y="141" width="1" height="8" fill="#f23645"/>
<rect x="821" y="146" width="3" height="3" fill="#f23645"/>
<rect x="826" y="134" width="1" height="16" fill="#089981"/>
<rect x="825" y="134" width="3" height="15" fill="#089981"/>
<rect x="830" y="130" width="1" height="5" fill="#089981"/>
<rect x="829" y="132" width="3" height="3" fill="#089981"/>
<rect x="834" y="132" width="1" height="8" fill="#f23645"/>
<rect x="833" y="132" width="3" height="4" fill="#f23645"/>
<rect x="838" y="135" width="1" height="8" fill="#f23645"/>
<rect x="837" y="135" width="3" height="7" fill="#f23645"/>
<rect x="842" y="136" width="1" height="6" fill="#089981"/>
<rect x="841" y="139" width="3" height="3" fill="#089981"/>
<rect x="846" y="135" width="1" height="5" fill="#089981"/>
<rect x="845" y="136" width="3" height="4" fill="#089981"/>
<rect x="850" y="131" width="1" height="13" fill="#f23645"/>
<rect x="849" y="136" width="3" height="8" fill="#f23645"/>
<rect x="854" y="142" width="1" height="6" fill="#f23645"/>
<rect x="853" y="143" width="3" height="5" fill="#f23645"/>
<rect x="858" y="145" width="1" height="9" fill="#f23645"/>
<rect x="857" y="146" width="3" height="8" fill="#f23645"/>
<rect x="862" y="145" width="1" height="9" fill="#089981"/>
<rect x="861" y="145" width="3" height="9" fill="#089981"/>
<rect x="866" y="142" width="1" height="5" fill="#089981"/>
<rect x="865" y="145" width="3" height="1" fill="#089981"/>
<rect x="870" y="142" width="1" height="7" fill="#f23645"/>
<rect x="869" y="145" width="3" height="3" fill="#f23645"/>
<path d="M0 147.5H911" stroke="#f23645" stroke-width="1" stroke-dasharray="1 2" fill="none"/>
</svg>
<!-- legend fade -->
<div class="abs" style="left:6px;top:32px;width:104px;height:23px;background:rgba(255,255,255,0.5);"></div>
<!-- title row -->
<svg class="abs" style="left:9px;top:10px" width="18" height="18" viewBox="0 0 18 18"><circle cx="9" cy="9" r="9" fill="#d69a00"/><path d="M7 4.9h4l1.5 3.3h-7z M4.1 9H7.3L9.1 11.6L10.9 9H14.1L16 11.8H2z" fill="#fff"/></svg>
<div class="abs" style="left:31px;top:9px;will-change:transform;font-size:16px;line-height:20px;">Vàng / Đô la Mỹ<span style="word-spacing:-1.1px"> · 3 · </span>OANDA</div>
<div class="abs" style="left:250px;top:10px;width:40px;height:18px;border-radius:9px;overflow:hidden;background:#e0f2ef;">
 <div class="abs" style="left:20px;top:0;width:20px;height:18px;background:#f4a6c5;"></div>
 <div class="abs" style="left:7px;top:5px;width:8px;height:8px;border-radius:4px;background:#089981;"></div>
 <div class="abs" style="left:24.5px;top:0px;font-size:16px;line-height:18px;color:#e0246d;font-weight:bold;">≈</div>
</div>
<div class="abs" style="left:306px;top:12px;will-change:transform;font-size:13px;line-height:16px;letter-spacing:0.12px;">O<span class="r">2113.095</span></div>
<div class="abs" style="left:376px;top:12px;will-change:transform;font-size:13px;line-height:16px;letter-spacing:0.12px;">H<span class="r">2113.245</span></div>
<div class="abs" style="left:446px;top:12px;will-change:transform;font-size:13px;line-height:16px;letter-spacing:0.12px;">L<span class="r">2112.850</span></div>
<div class="abs" style="left:514px;top:12px;will-change:transform;font-size:13px;line-height:16px;">C<span class="r">2112.980</span></div>
<div class="abs r" style="left:584px;top:12px;will-change:transform;font-size:13px;line-height:16px;">−0.115 (−0.01%)</div>
<!-- volume legend -->
<div class="abs" style="left:9px;top:35.5px;will-change:transform;font-size:13px;line-height:16px;">Khối lượng</div>
<div class="abs" style="left:81.5px;top:34.8px;will-change:transform;font-size:14.2px;line-height:16px;color:#ef5350;transform:scaleX(0.89);transform-origin:left center;">133</div>
<!-- collapse button -->
<div class="abs" style="left:9px;top:57px;width:27px;height:19px;border:1px solid #d1d4dc;border-radius:4px;background:#fff;"></div>
<svg class="abs" style="left:17px;top:62px" width="12" height="10" viewBox="0 0 12 10"><path d="M2.3 7.6L6.5 3.6L10.700 7.6" stroke="#131722" stroke-width="1.35" fill="none"/></svg>
<!-- price axis -->
<div class="panelclip" style="position:absolute;left:0;top:3px;width:977px;height:410px;overflow:hidden;">
<div class="pl" style="top:-4px;right:9.5px">2122.000</div>
</div>
<div class="pl" style="top:30px">2120.000</div>
<div class="pl" style="top:61px">2118.000</div>
<div class="pl" style="top:93px">2116.000</div>
<div class="pl" style="top:124px">2114.000</div>
<div class="pl" style="top:156px">2112.000</div>
<div class="pl" style="top:187px">2110.000</div>
<div class="pl" style="top:218px">2108.000</div>
<div class="pl" style="top:250px">2106.000</div>
<div class="pl" style="top:281px">2104.000</div>
<div class="pl" style="top:312px">2102.000</div>
<!-- price label -->
<div class="abs" style="left:911px;top:139px;width:62px;height:17px;background:#f23645;border-radius:0 2px 2px 0;"></div>
<div class="pl" style="top:141px;color:#fff;">2112.980</div>
<!-- volume label -->
<div class="abs" style="left:911px;top:326px;width:32px;height:16px;background:#ef5350;border-radius:0 2px 1px 0;"></div>
<div class="abs" style="left:919px;top:328px;font-size:12px;line-height:14px;color:#fff;transform:scaleX(0.93);transform-origin:left center;">133</div>
<!-- time axis -->
<div class="tl" style="left:93.0px;font-weight:bold;">5</div>
<div class="tl" style="left:212.0px">01:30</div>
<div class="tl" style="left:330.0px">03:00</div>
<div class="tl" style="left:487.0px">06:03</div>
<div class="tl" style="left:602.0px">07:30</div>
<div class="tl" style="left:720.0px">09:00</div>
<div class="tl" style="left:878.0px">11:00</div>
<svg class="abs" style="left:935px;top:347px" width="19" height="19" viewBox="0 0 19 19"><path d="M6 3.6h7L16.400 9.400L13 15.200h-7L2.600 9.400z" stroke="#131722" stroke-width="1.15" fill="none" stroke-linejoin="round"/><circle cx="9.500" cy="9.400" r="1.850" stroke="#131722" stroke-width="1.1" fill="none"/></svg>
<div class="abs" style="left:979px;top:327px;width:4px;height:21px;background:#fff;border-radius:2px;"></div>
<!-- separators -->
<div class="abs" style="left:0;top:370px;width:977px;height:1px;background:#e0e3eb;"></div>
<div class="abs" style="left:0;top:409px;width:980px;height:1px;background:#d6d8dd;"></div>
<div class="abs" style="left:0;top:410px;width:980px;height:3px;background:#fff;"></div>
<!-- bottom toolbar -->
<div class="bt" style="left:15px">1 Ngày</div>
<div class="bt" style="left:70.500px">5 Ngày</div>
<div class="bt" style="left:127.500px">1 Thg</div>
<div class="bt" style="left:174.500px">3 Thg</div>
<div class="bt" style="left:222px">6 Thg</div>
<div class="bt" style="left:270px">YTD</div>
<div class="bt" style="left:310.500px">1N</div>
<div class="bt" style="left:339.500px">5N</div>
<div class="bt" style="left:370px">Tất cả</div>
<div class="bt" style="right:13px;letter-spacing:-0.03px">10:56:31 (UTC+7)</div>
<!-- TradingView logo -->
<div class="abs" style="left:13px;top:293px;width:127px;height:31px;border:1px solid #dcdfe6;border-radius:17px;background:#fff;"></div>
<svg class="abs" style="left:19px;top:304px" width="22" height="12" viewBox="0 0 36 18"><path d="M14 18H7V7H0V0h14v18zM28 18h-8l7.500-18h8L28 18z" fill="#131722"/><circle cx="20" cy="3.500" r="3.500" fill="#131722"/></svg>
<div class="abs" style="left:45px;top:301px;will-change:transform;font-size:15px;line-height:18px;font-weight:bold;">TradingView</div>
</body></html>
